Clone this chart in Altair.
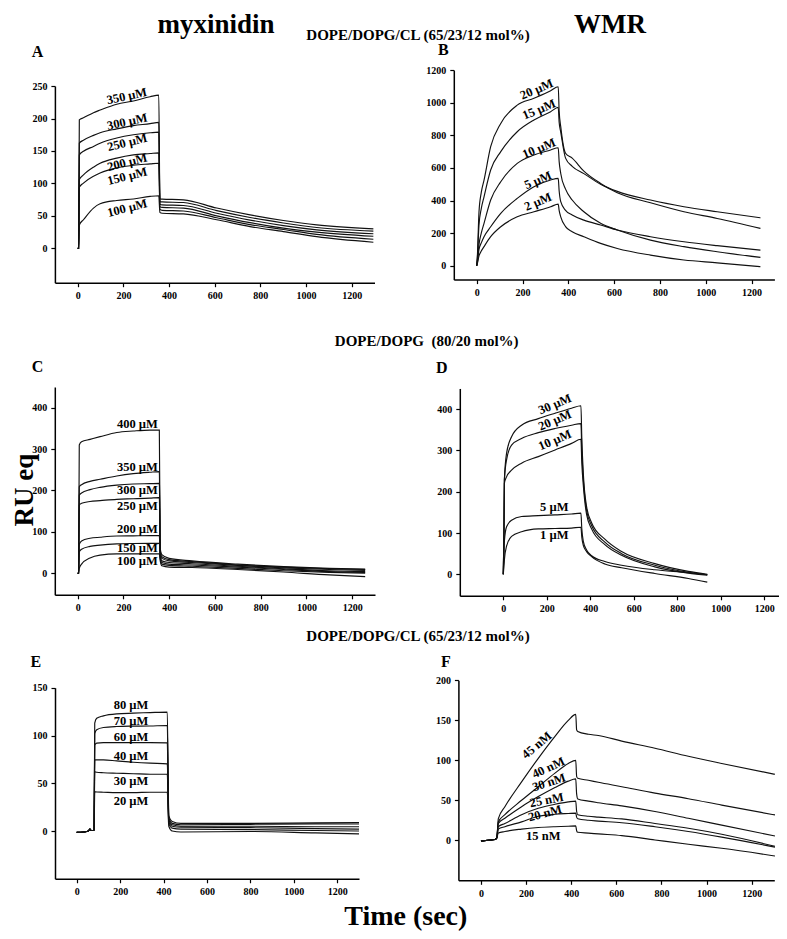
import altair as alt
import pandas as pd

FONT = "Liberation Serif"
W, H = 771, 923

# ---------------- Panel A : myxinidin, DOPE/DOPG/CL ----------------
A_T = [0, 4, 7, 25, 69, 98, 171, 244, 317, 355, 360, 370, 463, 609, 755, 901, 1047, 1295]
A_350 = [0, 0, 198, 201, 209, 213, 222, 227, 233.5, 236, 76, 75.8, 74.7, 62, 51.5, 42.8, 36, 30]
A_300 = [0, 0, 162, 166.5, 174, 178, 184, 189, 192, 194, 72, 71.5, 70.5, 58, 47.5, 39, 32, 26.5]
A_250 = [0, 0, 144, 149.5, 157, 162, 170, 175, 178, 179, 68, 67, 66, 54, 43.5, 35, 28.5, 22.5]
A_200 = [0, 0, 106, 113, 125, 131, 139, 144, 146, 147, 64, 63, 62, 50, 39.5, 31, 25, 18.5]
A_150 = [0, 0, 94, 100.5, 111, 116, 124, 128, 130, 131, 60, 58.5, 57.5, 47, 36.5, 29, 21.5, 14]
A_100 = [0, 0, 36, 44, 62, 68.6, 73.7, 76, 80, 81, 55, 54, 53, 44, 33.5, 25.8, 18, 9.3]
A_LAB = ["350 µM", "300 µM", "250 µM", "200 µM", "150 µM", "100 µM"]
A_LAB_T = [215, 217, 217, 217, 217, 217]
A_LAB_V = [234.5, 195, 163, 132.5, 111, 62]
A_LAB_ANG = [348, 348, 346, 346, 346, 346]

# ---------------- Panel B : WMR, DOPE/DOPG/CL ----------------
B_T = [0, 3, 10, 20, 32, 61, 105, 177, 250, 323, 356, 360, 367, 388, 417, 468, 541, 614, 759, 905, 1050, 1239]
B_20 = [0, 60, 330, 450, 525, 730, 873, 985, 1027, 1073, 1098, 950, 853, 690, 660, 580, 505, 448, 386, 331, 290, 229]
B_15 = [0, 50, 250, 350, 423, 587, 700, 822, 894, 945, 971, 880, 820, 660, 610, 565, 500, 456, 403, 362, 331, 294]
B_10 = [0, 30, 130, 200, 260, 403, 515, 628, 679, 710, 724, 640, 566, 470, 403, 331, 260, 219, 157, 117, 86, 51]
B_5 = [0, 20, 100, 140, 178, 239, 321, 413, 485, 526, 536, 460, 393, 340, 311, 280, 250, 219, 178, 147, 123, 96]
B_2 = [0, 15, 60, 90, 117, 178, 239, 300, 331, 362, 378, 340, 300, 240, 209, 178, 137, 106, 65, 35, 18, -6]
B_LAB = ["20 µM", "15 µM", "10 µM", "5 µM", "2 µM"]
B_LAB_T = [262, 272, 272, 268, 268]
B_LAB_V = [1082, 959, 720, 525, 393]
B_LAB_ANG = [337, 337, 337, 337, 337]

# ---------------- Panel C : myxinidin, DOPE/DOPG ----------------
C_T = [0, 4, 7, 17, 54, 98, 171, 243, 316, 357, 361, 368, 400, 500, 700, 900, 1100, 1257]
C_400 = [0, 0, 310, 318, 323.5, 330, 340, 343.7, 346, 346, 60, 45, 36, 30, 22, 16, 12, 10]
C_350 = [0, 0, 209, 214, 222, 227, 235, 240.6, 244, 245.5, 55, 40, 33, 28, 20, 15, 11, 9]
C_300 = [0, 0, 189, 194, 202, 207.6, 213, 215.7, 216.5, 217, 50, 36, 30, 26, 19, 13, 9, 7]
C_250 = [0, 0, 165, 169, 173.5, 175.5, 178.7, 180, 181.5, 182.7, 45, 30, 26, 23, 17, 11, 6, 4]
C_200 = [0, 0, 70, 78, 84.5, 87, 90, 90.5, 91, 91, 40, 26, 22, 20, 15, 9, 4, 2]
C_150 = [0, 0, 52, 58, 65, 68, 71, 72, 72.4, 72.4, 35, 22, 19, 17, 12, 6, 2, 0]
C_100 = [0, 0, 12, 22, 37, 44, 46.7, 46.7, 46.7, 46.7, 30, 18, 15, 14, 9, 3, -4, -8]
C_LAB = ["400 µM", "350 µM", "300 µM", "250 µM", "200 µM", "150 µM", "100 µM"]
C_LAB_T = [261, 261, 261, 261, 261, 261, 261]
C_LAB_V = [360.6, 256, 201, 162.6, 106, 60, 29]
C_LAB_ANG = [0, 0, 0, 0, 0, 0, 0]

# ---------------- Panel D : WMR, DOPE/DOPG ----------------
D_T = [0, 3, 5, 15, 38, 84, 161, 238, 314, 357, 361, 368, 383, 406, 467, 544, 697, 851, 938]
D_30 = [0, 100, 228, 293, 333, 361, 377, 390, 402, 408, 330, 244, 164, 125, 85, 55, 26, 7, 0]
D_20 = [0, 100, 228, 277, 313, 329, 343, 353, 361, 365, 300, 230, 155, 118, 78, 50, 22, 5, -1]
D_10 = [0, 100, 220, 236, 252, 269, 285, 301, 317, 327, 270, 215, 145, 110, 72, 46, 18, 3, -2]
D_5 = [0, 50, 80, 115, 131, 140, 142, 144, 146, 148, 110, 80, 59, 45, 31, 22, 11, 4, -1]
D_1 = [0, 20, 35, 68, 92, 103, 110, 111, 112, 114, 90, 70, 55, 43, 25, 16, 2, -10, -19]
D_LAB = ["30 µM", "20 µM", "10 µM", "5 µM", "1 µM"]
D_LAB_T = [237.5, 237.5, 237.5, 234.5, 234.5]
D_LAB_V = [412, 373, 325, 162, 95]
D_LAB_ANG = [337, 337, 337, 0, 0]

# ---------------- Panel E : myxinidin, DOPE/DOPG/CL ----------------
E_T = [0, 30, 54, 61, 66, 77, 80, 83, 92, 123, 184, 261, 338, 417, 424, 440, 480, 800, 1100, 1300]
E_80 = [-1.5, -1, 0, 2, 0.5, 0.5, 1, 113, 118, 120.6, 122.7, 123.4, 124, 124.5, 16, 10, 8, 8, 8.5, 8.7]
E_70 = [-1.5, -1, 0, 2, 0.5, 0.5, 1, 102, 106, 108.4, 109.4, 109.8, 110, 110.5, 14, 8, 6.5, 7, 7.5, 7.3]
E_60 = [-1.5, -1, 0, 2, 0.5, 0.5, 1, 90, 92, 92.6, 92.6, 92.6, 92.6, 92.3, 12, 6.5, 5, 5, 4.5, 4.5]
E_40 = [-1.5, -1, 0, 2, 0.5, 0.5, 1, 74.5, 74.5, 74.5, 73.4, 72, 71, 70.3, 10, 5, 4, 3.5, 2.5, 2]
E_30 = [-1.5, -1, 0, 2, 0.5, 0.5, 1, 62, 61.5, 61, 60.5, 60, 59.4, 59.4, 8, 3, 2, 1.5, 0.5, 0]
E_20 = [-1.5, -1, 0, 2, 0.5, 0.5, 1, 41, 40.8, 40.6, 40.2, 40.2, 40.6, 40.6, 5, 0, -1, -0.5, -2, -3]
E_LAB = ["80 µM", "70 µM", "60 µM", "40 µM", "30 µM", "20 µM"]
E_LAB_T = [250, 250, 250, 250, 250, 250]
E_LAB_V = [131.8, 114.7, 98, 78.7, 52.8, 31.8]
E_LAB_ANG = [0, 0, 0, 0, 0, 0]

# ---------------- Panel F : WMR, DOPE/DOPG/CL ----------------
F_T = [0, 30, 62, 70, 77, 106, 180, 254, 328, 387, 420, 424, 429, 476, 520, 624, 771, 919, 1067, 1303]
F_45 = [-1, 0, 1, 3, 27, 42, 73, 102.5, 130, 150, 157.5, 138, 136, 132.5, 131, 124, 115, 105, 96, 82.5]
F_40 = [-1, 0, 1, 3, 23, 32, 50, 67, 84, 96, 100, 80, 77.5, 75, 72.5, 67, 59, 52, 44, 31.7]
F_30 = [-1, 0, 1, 3, 21, 27.5, 42, 54.6, 66, 74, 76.7, 58, 51.7, 49, 47, 43, 36, 27.5, 19, 5.4]
F_25 = [-1, 0, 1, 3, 17, 21, 32, 40, 45, 48, 49, 36, 32, 30, 29, 26.7, 21, 15, 7.5, -7.5]
F_20 = [-1, 0, 1, 3, 14, 17, 23, 30, 32.5, 33.5, 34, 29, 27, 25, 24, 22, 17, 11, 4, -8.5]
F_15 = [-1, 0, 1, 3, 9, 11, 14, 16, 17, 17.5, 18, 12, 10, 9, 8, 5.8, 0.4, -5, -10, -19.6]
F_LAB = ["45 nM", "40 nM", "30 nM", "25 nM", "20 nM", "15 nM"]
F_LAB_T = [247, 298.5, 301.5, 291, 283.7, 276]
F_LAB_V = [119, 90.8, 72.5, 50.4, 33.75, 5.4]
F_LAB_ANG = [320, 335, 342, 349, 345, 0]

X_TICKS = [0, 200, 400, 600, 800, 1000, 1200]

# ---------------- figure texts ----------------
TXT = ["myxinidin", "WMR", "DOPE/DOPG/CL (65/23/12 mol%)", "A", "B",
       "DOPE/DOPG\u00a0\u00a0(80/20 mol%)", "C", "D", "RU eq",
       "DOPE/DOPG/CL (65/23/12 mol%)", "E", "F", "Time (sec)"]
TXT_X = [208, 602, 410, 29.5, 435.3, 418.7, 29.5, 433.7, 25, 410, 27.8, 437.8, 397.8]
TXT_Y = [24.5, 24.5, 31.5, 49, 47, 338, 363.7, 365.3, 482, 633, 658.7, 658.7, 917]
TXT_SIZE = [27, 27, 15, 16, 16, 15, 16, 16, 27, 15, 16, 16, 28]
TXT_ANG = [0, 0, 0, 0, 0, 0, 0, 0, 270, 0, 0, 0, 0]


def panel(t, series, labels, lab_t, lab_v, lab_ang, xdom, xrng, ydom, yrng, yticks):
    rows = []
    for name, vals in series:
        for ti, vi in zip(t, vals):
            rows.append({"t": ti, "v": vi, "s": name})
    df = pd.DataFrame(rows)
    lab = pd.DataFrame({"t": lab_t, "v": lab_v, "label": labels, "ang": lab_ang})
    xs = alt.Scale(domain=xdom, range=xrng, nice=False, zero=False)
    ys = alt.Scale(domain=ydom, range=yrng, nice=False, zero=False)
    xa = alt.Axis(orient="bottom", offset=yrng[0] - H, values=X_TICKS, format="d",
                  title=None, grid=False, labelFlush=False)
    ya = alt.Axis(orient="left", offset=-xrng[0], values=yticks, format="d",
                  title=None, grid=False, labelFlush=False)
    lines = alt.Chart(df).mark_line(color="#111111", strokeWidth=1.15, interpolate="monotone").encode(
        x=alt.X("t:Q", scale=xs, axis=xa),
        y=alt.Y("v:Q", scale=ys, axis=ya),
        detail="s:N",
    )
    texts = alt.Chart(lab).mark_text(font=FONT, fontWeight="bold", fontSize=12.5,
                                     baseline="middle", align="center", color="black").encode(
        x=alt.X("t:Q", scale=xs, axis=xa),
        y=alt.Y("v:Q", scale=ys, axis=ya),
        text="label:N",
        angle=alt.Angle("ang:Q", scale=None),
    )
    return alt.layer(lines, texts)


pA = panel(A_T, [("350", A_350), ("300", A_300), ("250", A_250), ("200", A_200), ("150", A_150), ("100", A_100)],
           A_LAB, A_LAB_T, A_LAB_V, A_LAB_ANG, [-100, 1300], [46.9, 366.5], [-53, 250], [274.7, 78.05],
           [0, 50, 100, 150, 200, 250])
pB = panel(B_T, [("20", B_20), ("15", B_15), ("10", B_10), ("5", B_5), ("2", B_2)],
           B_LAB, B_LAB_T, B_LAB_V, B_LAB_ANG, [-100, 1300], [445.8, 766.4], [-85, 1200], [271.6, 62.1],
           [0, 200, 400, 600, 800, 1000, 1200])
pC = panel(C_T, [("400", C_400), ("350", C_350), ("300", C_300), ("250", C_250), ("200", C_200), ("150", C_150), ("100", C_100)],
           C_LAB, C_LAB_T, C_LAB_V, C_LAB_ANG, [-100, 1300], [46.8, 367], [-52, 450], [586.8, 379],
           [0, 100, 200, 300, 400])
pD = panel(D_T, [("30", D_30), ("20", D_20), ("10", D_10), ("5", D_5), ("1", D_1)],
           D_LAB, D_LAB_T, D_LAB_V, D_LAB_ANG, [-200, 1300], [451.8, 778], [-52, 450], [587.8, 380.45],
           [0, 100, 200, 300, 400])
pE = panel(E_T, [("80", E_80), ("70", E_70), ("60", E_60), ("40", E_40), ("30", E_30), ("20", E_20)],
           E_LAB, E_LAB_T, E_LAB_V, E_LAB_ANG, [-100, 1300], [47, 351], [-50, 150], [870.75, 679.75],
           [0, 50, 100, 150])
pF = panel(F_T, [("45", F_45), ("40", F_40), ("30", F_30), ("25", F_25), ("20", F_20), ("15", F_15)],
           F_LAB, F_LAB_T, F_LAB_V, F_LAB_ANG, [-100, 1300], [450.4, 766.3], [-50, 200], [872.3, 672.3],
           [0, 50, 100, 150, 200])

tdf = pd.DataFrame({"txt": TXT, "px": TXT_X, "py": TXT_Y, "fs": TXT_SIZE, "ang": TXT_ANG})
titles = alt.Chart(tdf).mark_text(font=FONT, fontWeight="bold", align="center",
                                  baseline="alphabetic", color="black").encode(
    x=alt.X("px:Q", scale=None, axis=None),
    y=alt.Y("py:Q", scale=None, axis=None),
    text="txt:N",
    size=alt.Size("fs:Q", scale=None, legend=None),
    angle=alt.Angle("ang:Q", scale=None),
)

chart = alt.layer(pA, pB, pC, pD, pE, pF, titles).resolve_scale(
    x="independent", y="independent"
).properties(
    width=W, height=H, padding=0, autosize=alt.AutoSizeParams(type="none")
).configure_view(stroke=None).configure_axis(
    domainColor="black", domainWidth=1.5, tickColor="black", tickWidth=1.2, tickSize=4,
    labelFont=FONT, labelFontWeight="bold", labelFontSize=10, labelColor="black", labelPadding=4,
)

chart.save("out.html", embed_options={"renderer": "svg", "actions": False})
